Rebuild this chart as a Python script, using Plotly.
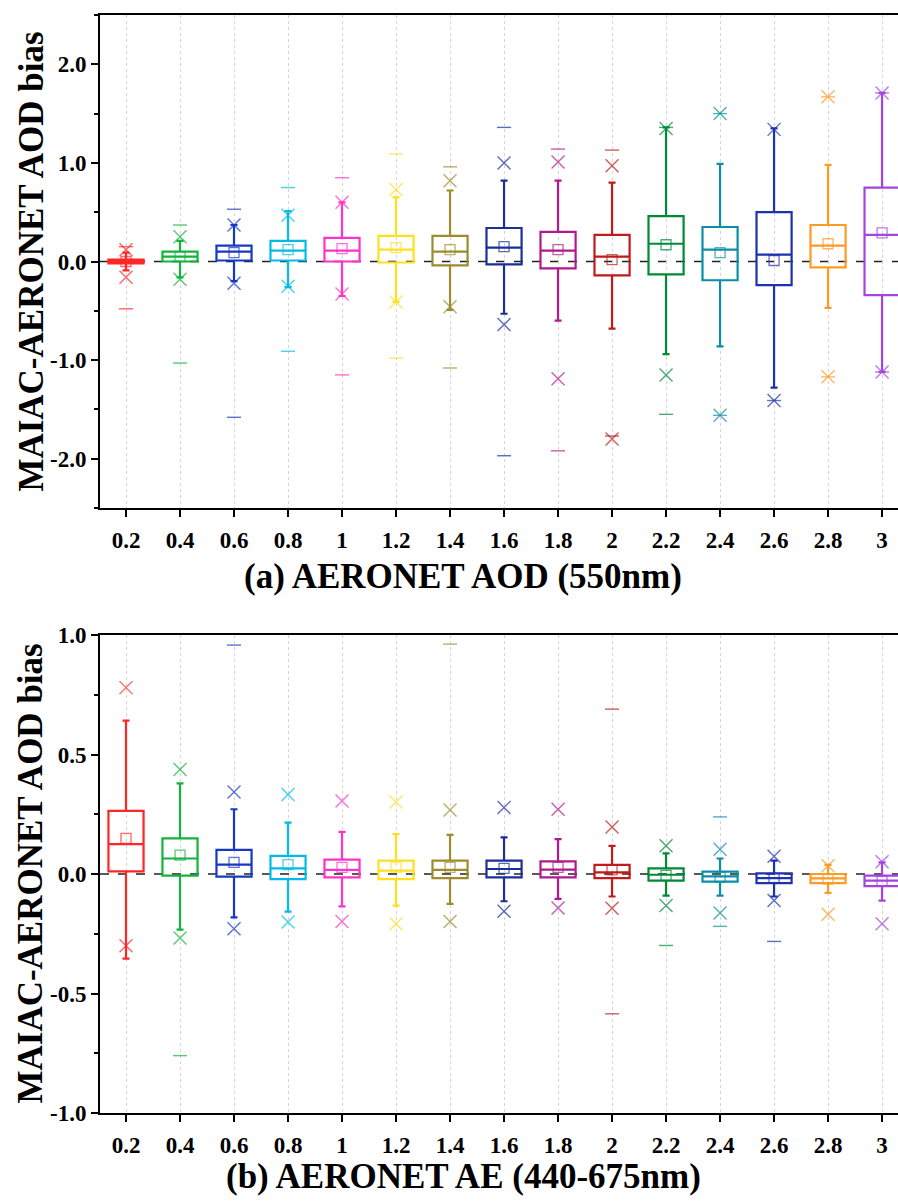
import plotly.graph_objects as go

# ---------------- data ----------------
categories = [0.2, 0.4, 0.6, 0.8, 1.0, 1.2, 1.4, 1.6, 1.8, 2.0, 2.2, 2.4, 2.6, 2.8, 3.0]
tick_labels = ["0.2", "0.4", "0.6", "0.8", "1", "1.2", "1.4", "1.6", "1.8", "2",
               "2.2", "2.4", "2.6", "2.8", "3"]
colors = ["#FF2626", "#12B43C", "#1638C4", "#00BCE6", "#FF33C8", "#FFE01E", "#9C8C2E",
          "#1B2F98", "#B01A8E", "#C01A1A", "#008A38", "#0A8FA8", "#1E32B0", "#FF9A22", "#A444E0"]

aod_yticks = [-2.0, -1.0, 0.0, 1.0, 2.0]
aod_ytick_text = ["-2.0", "-1.0", "0.0", "1.0", "2.0"]
ae_yticks = [-1.0, -0.5, 0.0, 0.5, 1.0]
ae_ytick_text = ["-1.0", "-0.5", "0.0", "0.5", "1.0"]

# (a) AERONET AOD (550nm)
aod_q1 = [-0.02, 0.00, 0.01, 0.01, 0.00, -0.01, -0.04, -0.03, -0.07, -0.14, -0.13, -0.19, -0.24, -0.06, -0.34]
aod_med = [0.00, 0.05, 0.10, 0.11, 0.11, 0.12, 0.10, 0.14, 0.11, 0.05, 0.18, 0.12, 0.07, 0.16, 0.27]
aod_q3 = [0.02, 0.10, 0.16, 0.21, 0.24, 0.26, 0.26, 0.34, 0.30, 0.27, 0.46, 0.35, 0.50, 0.37, 0.75]
aod_mean = [0.00, 0.05, 0.09, 0.12, 0.13, 0.14, 0.12, 0.15, 0.12, 0.02, 0.17, 0.09, 0.01, 0.18, 0.29]
aod_whi = [0.09, 0.21, 0.37, 0.51, 0.60, 0.65, 0.72, 0.82, 0.82, 0.80, 1.36, 0.99, 1.35, 0.98, 1.71]
aod_wlo = [-0.09, -0.16, -0.20, -0.26, -0.35, -0.41, -0.49, -0.53, -0.60, -0.68, -0.94, -0.86, -1.28, -0.47, -1.12]
aod_p99 = [0.12, 0.25, 0.37, 0.47, 0.60, 0.73, 0.82, 1.00, 1.01, 0.97, 1.35, 1.50, 1.34, 1.67, 1.71]
aod_p1 = [-0.16, -0.18, -0.22, -0.25, -0.33, -0.41, -0.46, -0.64, -1.19, -1.80, -1.15, -1.56, -1.41, -1.17, -1.12]
aod_max = [0.15, 0.37, 0.53, 0.75, 0.85, 1.09, 0.96, 1.36, 1.14, 1.13, 1.36, 1.50, None, 1.67, 1.71]
aod_min = [-0.48, -1.03, -1.58, -0.91, -1.15, -0.98, -1.08, -1.97, -1.92, -1.77, -1.55, -1.56, -1.41, -1.17, -1.12]

# (b) AERONET AE (440-675nm)
ae_q1 = [0.011, -0.007, -0.011, -0.021, -0.014, -0.021, -0.017, -0.014, -0.014, -0.017, -0.028, -0.032, -0.038, -0.038, -0.051]
ae_med = [0.125, 0.065, 0.039, 0.024, 0.017, 0.014, 0.017, 0.021, 0.018, 0.007, -0.003, -0.010, -0.017, -0.018, -0.028]
ae_q3 = [0.264, 0.149, 0.101, 0.076, 0.060, 0.056, 0.056, 0.056, 0.053, 0.038, 0.024, 0.010, 0.003, 0.000, -0.007]
ae_mean = [0.149, 0.079, 0.049, 0.039, 0.028, 0.028, 0.028, 0.024, 0.028, 0.017, -0.006, -0.013, -0.018, -0.021, -0.031]
ae_whi = [0.642, 0.379, 0.271, 0.215, 0.176, 0.167, 0.164, 0.153, 0.146, 0.118, 0.086, 0.065, 0.056, 0.038, 0.049]
ae_wlo = [-0.354, -0.233, -0.181, -0.157, -0.135, -0.132, -0.125, -0.114, -0.104, -0.094, -0.090, -0.090, -0.094, -0.079, -0.111]
ae_p99 = [0.78, 0.437, 0.343, 0.333, 0.306, 0.301, 0.268, 0.278, 0.271, 0.197, 0.118, 0.104, 0.074, 0.035, 0.051]
ae_p1 = [-0.30, -0.268, -0.229, -0.201, -0.199, -0.208, -0.199, -0.156, -0.142, -0.143, -0.132, -0.163, -0.111, -0.168, -0.208]
ae_max = [None, None, 0.958, None, None, None, 0.962, None, None, 0.69, None, 0.239, None, None, None]
ae_min = [None, -0.76, None, None, None, None, None, None, None, -0.585, -0.299, -0.219, -0.282, None, None]

FONT = "Liberation Serif"

fig = go.Figure()


def add_panel(xa, ya, q1, med, q3, mean, whi, wlo, p99, p1, mx, mn):
    for i, c in enumerate(categories):
        col = colors[i]
        fig.add_trace(go.Box(
            x=[c], q1=[q1[i]], median=[med[i]], q3=[q3[i]],
            lowerfence=[wlo[i]], upperfence=[whi[i]],
            width=0.13, whiskerwidth=0.2, boxpoints=False,
            line=dict(color=col, width=2.2), fillcolor="rgba(0,0,0,0)",
            xaxis=xa, yaxis=ya, showlegend=False, hoverinfo="skip"))
        fig.add_trace(go.Scatter(
            x=[c], y=[mean[i]], mode="markers", xaxis=xa, yaxis=ya, showlegend=False,
            opacity=0.7,
            marker=dict(symbol="square-open", size=10, color=col, line=dict(width=1.3))))
        fig.add_trace(go.Scatter(
            x=[c, c], y=[p99[i], p1[i]], mode="markers", xaxis=xa, yaxis=ya, showlegend=False,
            opacity=0.7,
            marker=dict(symbol="x-thin-open", size=13, color=col, line=dict(width=1.4, color=col))))
        fig.add_trace(go.Scatter(
            x=[c, c], y=[mx[i], mn[i]], mode="markers", xaxis=xa, yaxis=ya, showlegend=False,
            opacity=0.7,
            marker=dict(symbol="line-ew-open", size=10, color=col, line=dict(width=1.4, color=col))))


add_panel("x", "y", aod_q1, aod_med, aod_q3, aod_mean, aod_whi, aod_wlo, aod_p99, aod_p1, aod_max, aod_min)
add_panel("x2", "y2", ae_q1, ae_med, ae_q3, ae_mean, ae_whi, ae_wlo, ae_p99, ae_p1, ae_max, ae_min)

xrange = [0.1037, 3.059]
xcommon = dict(
    range=xrange, tickvals=categories, ticktext=tick_labels, automargin=False,
    showline=True, linecolor="black", linewidth=2, mirror=True,
    ticks="outside", ticklen=7, tickwidth=1.5, tickcolor="black",
    showgrid=True, gridcolor="#d4d4d4", griddash="dot", gridwidth=1,
    zeroline=False, ticklabelstandoff=3,
    tickfont=dict(family=FONT, size=23, color="black", weight="bold"),
)
ycommon = dict(
    showline=True, linecolor="black", linewidth=2, mirror=False, automargin=False,
    ticks="outside", ticklen=7, tickwidth=1.5, tickcolor="black",
    showgrid=False, zeroline=False,
    tickfont=dict(family=FONT, size=23, color="black", weight="bold"),
)

fig.update_layout(
    width=898, height=1202,
    margin=dict(l=100, r=0, t=15, b=89),
    plot_bgcolor="white", paper_bgcolor="white",
    showlegend=False,
    xaxis=dict(anchor="y", domain=[0, 1], **xcommon),
    xaxis2=dict(anchor="y2", domain=[0, 1], **xcommon),
    yaxis=dict(anchor="x", domain=[0.551, 1.0], range=[-2.5, 2.5],
               tickvals=aod_yticks, ticktext=aod_ytick_text,
               minor=dict(dtick=0.5, tick0=0, ticks="outside", ticklen=4, tickwidth=1.5, tickcolor="black"),
               **ycommon),
    yaxis2=dict(anchor="x2", domain=[0.0, 0.4353], range=[-1.0, 1.0],
                tickvals=ae_yticks, ticktext=ae_ytick_text,
                minor=dict(dtick=0.25, tick0=0, ticks="outside", ticklen=4, tickwidth=1.5, tickcolor="black"),
                **ycommon),
)

# zero reference lines
for ya, xa in (("y", "x"), ("y2", "x2")):
    fig.add_shape(type="line", xref=f"{xa} domain", yref=ya, x0=0, x1=1, y0=0, y1=0,
                  line=dict(color="#222222", width=1.6, dash="dash"), layer="below")

title_font = dict(family=FONT, size=35, color="black", weight="bold")
ylab_font = dict(family=FONT, size=35, color="black", weight="bold")
annots = [
    dict(text="(a) AERONET AOD (550nm)", x=0.455, y=0.4885, xref="paper", yref="paper",
         showarrow=False, font=title_font, xanchor="center", yanchor="middle"),
    dict(text="(b) AERONET AE (440-675nm)", x=0.455, y=-0.058, xref="paper", yref="paper",
         showarrow=False, font=title_font, xanchor="center", yanchor="middle"),
    dict(text="MAIAC-AERONET AOD bias", x=-0.087, y=0.775, xref="paper", yref="paper",
         showarrow=False, font=ylab_font, textangle=-90, xanchor="center", yanchor="middle"),
    dict(text="MAIAC-AERONET AOD bias", x=-0.087, y=0.2177, xref="paper", yref="paper",
         showarrow=False, font=ylab_font, textangle=-90, xanchor="center", yanchor="middle"),
]
fig.update_layout(annotations=annots)

fig.write_html(
    "out.html",
    config={"displayModeBar": False},
    post_script="document.body.style.margin='0';document.body.style.overflow='hidden';",
)
